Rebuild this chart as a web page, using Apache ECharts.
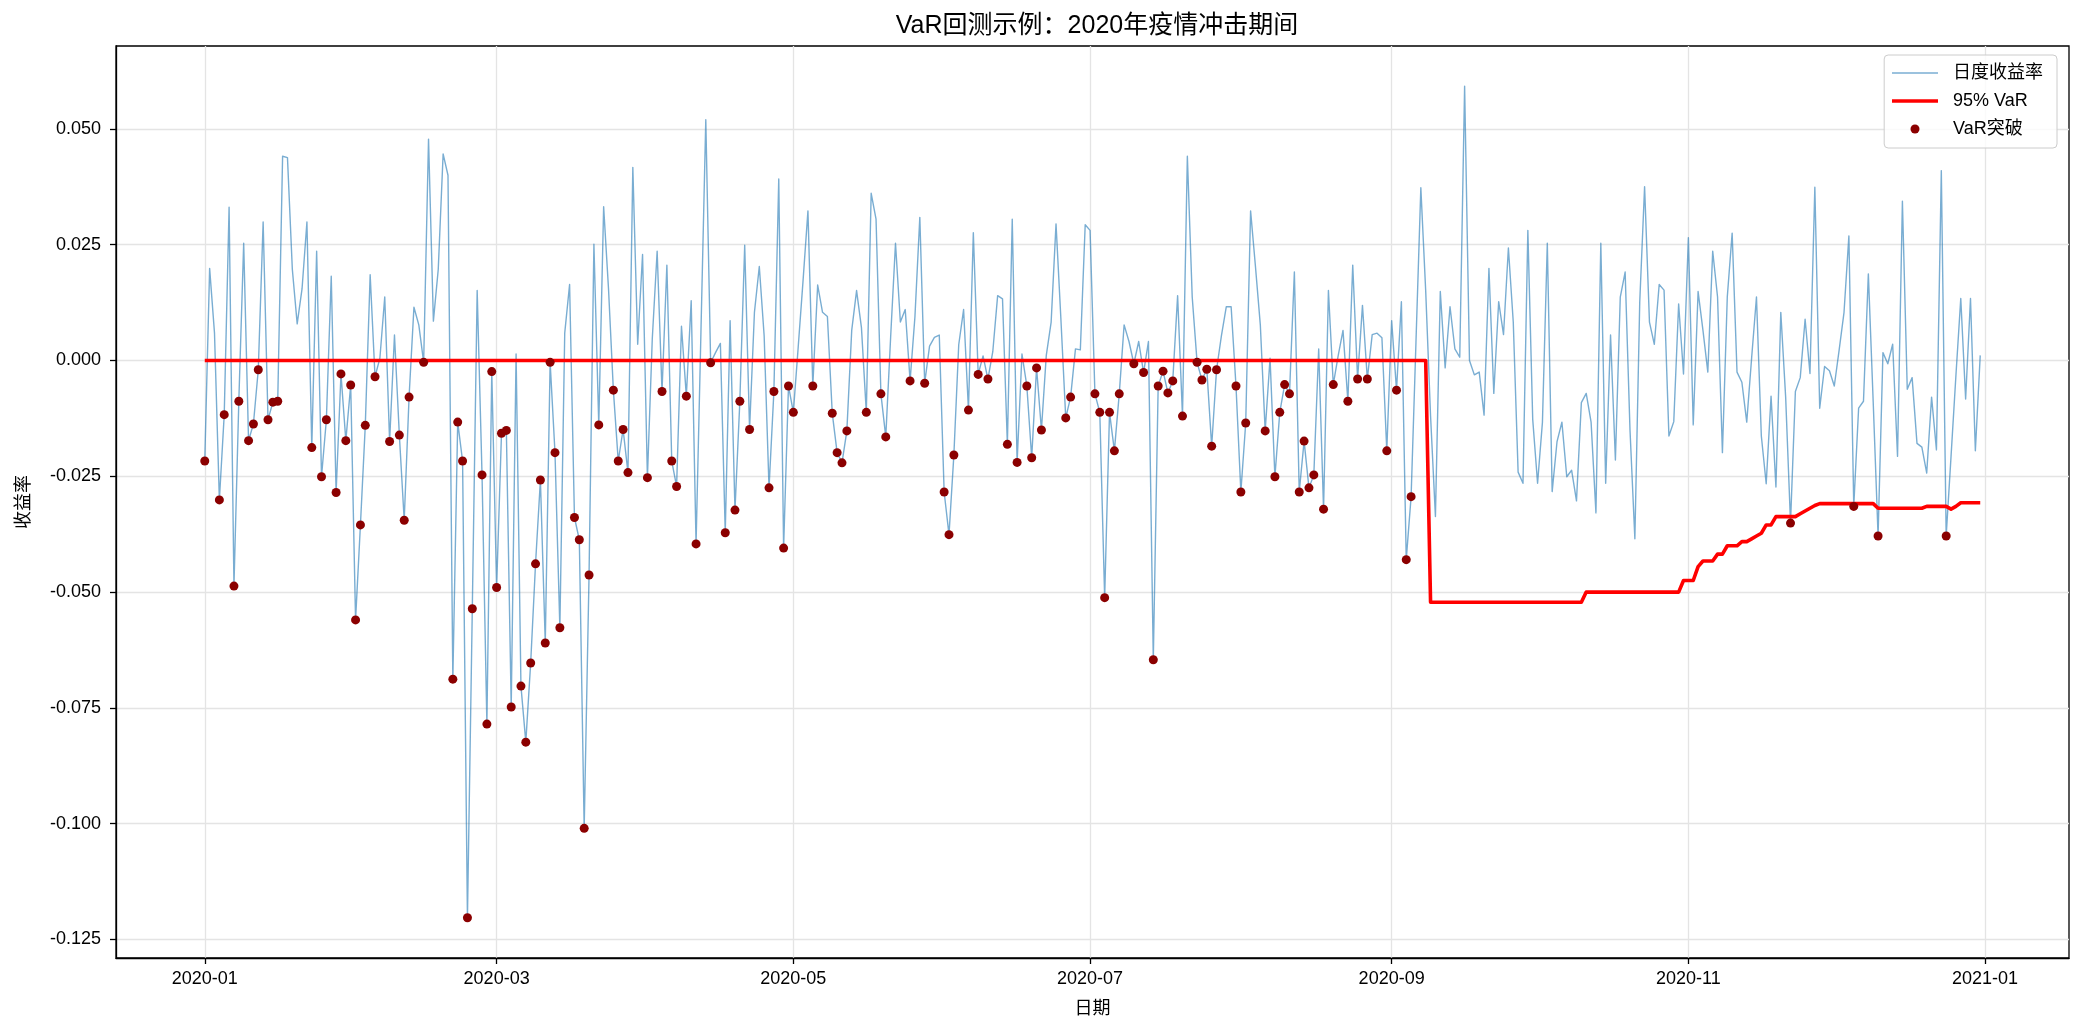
<!DOCTYPE html>
<html>
<head>
<meta charset="utf-8">
<title>VaR回测示例</title>
<script src="https://cdn.jsdelivr.net/npm/echarts@6/dist/echarts.min.js"></script>
<style>
  html, body { margin: 0; padding: 0; background: #fff; }
  #chart { width: 2084px; height: 1034px; }
</style>
</head>
<body>
<div id="chart"></div>
<script>
// 日度收益率, 2020-01-01 .. 2020-12-31 (每天一个点)
var retJan = [-0.0217, 0.0199, 0.0059, -0.0301, -0.0117, 0.0331, -0.0487, -0.0088, 0.0253, -0.0173,
  -0.0137, -0.0020, 0.0299, -0.0128, -0.0090, -0.0088, 0.0441, 0.0438, 0.0197, 0.0079,
  0.0155, 0.0299, -0.0188, 0.0236, -0.0251, -0.0128, 0.0182, -0.0285, -0.0029, -0.0173, -0.0053];
var retFeb = [-0.0560, -0.0355, -0.0140, 0.0185, -0.0035, 0.0005, 0.0137, -0.0175, 0.0055, -0.0161,
  -0.0345, -0.0079, 0.0115, 0.0077, -0.0004, 0.0478, 0.0085, 0.0197, 0.0446, 0.0400,
  -0.0688, -0.0133, -0.0217, -0.1203, -0.0536, 0.0151, -0.0247, -0.0785, -0.0024];
var retMar = [-0.0490, -0.0157, -0.0151, -0.0748, 0.0014, -0.0703, -0.0824, -0.0653, -0.0439, -0.0258,
  -0.0610, -0.0004, -0.0199, -0.0577, 0.0059, 0.0164, -0.0339, -0.0387, -0.1010, -0.0463,
  0.0251, -0.0139, 0.0332, 0.0155, -0.0064, -0.0217, -0.0149, -0.0242, 0.0417, 0.0035, 0.0229];
var retApr = [-0.0253, 0.0047, 0.0236, -0.0067, 0.0206, -0.0217, -0.0272, 0.0074, -0.0077, 0.0129,
  -0.0396, 0.0060, 0.0520, -0.0005, 0.0017, 0.0037, -0.0372, 0.0086, -0.0323, -0.0088,
  0.0249, -0.0149, 0.0104, 0.0203, 0.0053, -0.0275, -0.0067, 0.0392, -0.0405, -0.0055];
var retMay = [-0.0112, 0.0029, 0.0173, 0.0323, -0.0055, 0.0163, 0.0104, 0.0095, -0.0114, -0.0199,
  -0.0221, -0.0152, 0.0065, 0.0151, 0.0071, -0.0112, 0.0361, 0.0305, -0.0072, -0.0165,
  0.0050, 0.0253, 0.0083, 0.0110, -0.0044, 0.0095, 0.0309, -0.0049, 0.0031, 0.0050, 0.0055];
var retJun = [-0.0284, -0.0376, -0.0204, 0.0034, 0.0110, -0.0107, 0.0276, -0.0030, 0.0010, -0.0040,
  0.0019, 0.0140, 0.0133, -0.0181, 0.0305, -0.0220, 0.0014, -0.0055, -0.0210, -0.0016,
  -0.0150, 0.0011, 0.0083, 0.0295, 0.0090, -0.0124, -0.0079, 0.0025, 0.0023, 0.0293];
var retJul = [0.0281, -0.0072, -0.0112, -0.0512, -0.0112, -0.0195, -0.0072, 0.0077, 0.0041, -0.0007,
  0.0041, -0.0026, 0.0041, -0.0646, -0.0055, -0.0023, -0.0070, -0.0044, 0.0140, -0.0120,
  0.0441, 0.0137, -0.0004, -0.0042, -0.0019, -0.0185, -0.0020, 0.0053, 0.0116, 0.0116, -0.0055];
var retAug = [-0.0284, -0.0135, 0.0323, 0.0203, 0.0077, -0.0152, 0.0005, -0.0251, -0.0112, -0.0052,
  -0.0072, 0.0191, -0.0284, -0.0174, -0.0275, -0.0247, 0.0025, -0.0321, 0.0151, -0.0052,
  0.0010, 0.0065, -0.0088, 0.0206, -0.0040, 0.0119, -0.0040, 0.0056, 0.0059, 0.0049, -0.0195];
var retSep = [0.0086, -0.0064, 0.0127, -0.0430, -0.0294, 0.0040, 0.0373, 0.0150, -0.0120, -0.0337,
  0.0149, -0.0016, 0.0116, 0.0025, 0.0007, 0.0592, 0.0000, -0.0031, -0.0025, -0.0118,
  0.0199, -0.0071, 0.0127, 0.0056, 0.0243, 0.0083, -0.0241, -0.0265, 0.0281, -0.0127];
var retOct = [-0.0265, -0.0133, 0.0253, -0.0283, -0.0175, -0.0133, -0.0251, -0.0237, -0.0303, -0.0091,
  -0.0071, -0.0133, -0.0329, 0.0253, -0.0265, 0.0055, -0.0215, 0.0137, 0.0191, -0.0150,
  -0.0385, 0.0125, 0.0375, 0.0083, 0.0035, 0.0164, 0.0152, -0.0163, -0.0132, 0.0122, -0.0029];
var retNov = [0.0265, -0.0139, 0.0149, 0.0065, -0.0025, 0.0236, 0.0137, -0.0199, 0.0137, 0.0275,
  -0.0025, -0.0047, -0.0133, 0.0005, 0.0137, -0.0163, -0.0266, -0.0077, -0.0273, 0.0104,
  -0.0079, -0.0351, -0.0067, -0.0037, 0.0089, -0.0028, 0.0374, -0.0103, -0.0013, -0.0022];
var retDec = [-0.0055, 0.0023, 0.0104, 0.0269, -0.0315, -0.0103, -0.0088, 0.0187, -0.0090, -0.0379,
  0.0017, -0.0007, 0.0035, -0.0207, 0.0344, -0.0062, -0.0037, -0.0179, -0.0187, -0.0243,
  -0.0079, -0.0193, 0.0410, -0.0379, -0.0207, -0.0033, 0.0134, -0.0083, 0.0134, -0.0195, 0.0011];

// 95% VaR: 阶梯值, 从该日起生效
var varSteps = [
  ['2020-01-01', 0], ['2020-09-09', -0.0522], ['2020-10-11', -0.0500], ['2020-10-31', -0.0475],
  ['2020-11-03', -0.0445], ['2020-11-04', -0.0433], ['2020-11-07', -0.0418], ['2020-11-09', -0.0400],
  ['2020-11-12', -0.0391], ['2020-11-14', -0.0385], ['2020-11-15', -0.0379], ['2020-11-16', -0.0373],
  ['2020-11-17', -0.0355], ['2020-11-19', -0.0337], ['2020-11-24', -0.0331], ['2020-11-25', -0.0325],
  ['2020-11-26', -0.0319], ['2020-11-27', -0.0313], ['2020-11-28', -0.0309], ['2020-12-10', -0.0319],
  ['2020-12-20', -0.0315], ['2020-12-25', -0.0321], ['2020-12-26', -0.0315], ['2020-12-27', -0.0307]
];

var yTicks = [-0.125, -0.100, -0.075, -0.050, -0.025, 0.000, 0.025, 0.050];
var xTickDates = ['2020-01-01', '2020-03-01', '2020-05-01', '2020-07-01', '2020-09-01', '2020-11-01', '2021-01-01'];

var FONT = "'Liberation Sans', Arial, 'Noto Sans CJK SC', sans-serif";
var DAY = 24 * 3600 * 1000;

function pad(n) { return n < 10 ? '0' + n : '' + n; }
function fmtDay(d) { return d.getFullYear() + '-' + pad(d.getMonth() + 1) + '-' + pad(d.getDate()); }
function parseDay(s) {
  var p = s.split('-');
  return new Date(+p[0], +p[1] - 1, +p[2]).getTime();
}

var returns = [].concat(retJan, retFeb, retMar, retApr, retMay, retJun,
  retJul, retAug, retSep, retOct, retNov, retDec);

var retData = [];
var varData = [];
var breachData = [];
var curVar = 0;
var stepMap = {};
varSteps.forEach(function (s) { stepMap[s[0]] = s[1]; });

for (var i = 0; i < returns.length; i++) {
  var d = new Date(2020, 0, 1 + i);
  var key = fmtDay(d);
  if (stepMap[key] !== undefined) curVar = stepMap[key];
  var t = d.getTime();
  retData.push([t, returns[i]]);
  varData.push([t, curVar]);
  if (returns[i] < curVar) breachData.push([t, returns[i]]);
}

var xMin = parseDay('2020-01-01') - 18.25 * DAY;
var xMax = parseDay('2020-12-31') + 18.25 * DAY;
var xTicks = xTickDates.map(parseDay);

var chart = echarts.init(document.getElementById('chart'), null, { renderer: 'canvas' });

var option = {
  backgroundColor: '#fff',
  animation: false,
  textStyle: { fontFamily: FONT },
  title: {
    text: 'VaR回测示例：2020年疫情冲击期间',
    left: 1092,
    textAlign: 'center',
    top: 9,
    textStyle: { fontFamily: FONT, fontSize: 25, fontWeight: 'normal', color: '#000' }
  },
  grid: {
    left: 116, right: 15, top: 46, bottom: 76,
    show: true, borderColor: '#000', borderWidth: 1.3, backgroundColor: 'transparent'
  },
  legend: {
    orient: 'vertical',
    right: 27,
    top: 55,
    itemWidth: 46,
    itemHeight: 9,
    itemGap: 10,
    padding: [9, 14, 10, 6],
    backgroundColor: 'rgba(255,255,255,0.8)',
    borderColor: '#cccccc',
    borderWidth: 1,
    borderRadius: 4,
    textStyle: { fontFamily: FONT, fontSize: 18, color: '#000', lineHeight: 18, padding: [0, 0, 0, 10] },
    data: [
      // 线条图例只要线, 不要中间的圆点
      { name: '日度收益率', itemStyle: { opacity: 0 }, lineStyle: { width: 1.4 } },
      { name: '95% VaR', itemStyle: { opacity: 0 }, lineStyle: { width: 3.6 } },
      { name: 'VaR突破', icon: 'circle' }
    ]
  },
  // 时间用毫秒时间戳放在数值轴上, 刻度只放在单月的 1 号
  xAxis: {
    type: 'value',
    min: xMin,
    max: xMax,
    name: '日期',
    nameLocation: 'middle',
    nameGap: 42,
    nameTextStyle: { fontFamily: FONT, fontSize: 18, color: '#000' },
    axisLine: { show: true, onZero: false, lineStyle: { color: '#000', width: 1.3 } },
    axisTick: { show: true, length: 6, lineStyle: { color: '#000', width: 1.3 }, customValues: xTicks },
    axisLabel: {
      show: true, margin: 12, fontFamily: FONT, fontSize: 18, color: '#000',
      customValues: xTicks,
      formatter: function (v) {
        var d = new Date(v);
        return d.getFullYear() + '-' + pad(d.getMonth() + 1);
      }
    },
    splitLine: { show: true, lineStyle: { color: '#e4e4e4', width: 1.3 } }
  },
  yAxis: {
    type: 'value',
    min: -0.129,
    max: 0.0679,
    name: '收益率',
    nameLocation: 'middle',
    nameGap: 83,
    nameTextStyle: { fontFamily: FONT, fontSize: 18, color: '#000' },
    axisLine: { show: true, lineStyle: { color: '#000', width: 1.3 } },
    axisTick: { show: true, length: 6, lineStyle: { color: '#000', width: 1.3 }, customValues: yTicks },
    axisLabel: {
      show: true, margin: 15, fontFamily: FONT, fontSize: 18, color: '#000',
      customValues: yTicks,
      formatter: function (v) { return v.toFixed(3); }
    },
    splitLine: { show: true, lineStyle: { color: '#e4e4e4', width: 1.3 } }
  },
  series: [
    {
      name: '日度收益率',
      type: 'line',
      data: retData,
      symbol: 'none',
      lineStyle: { color: '#1f77b4', width: 1.4, opacity: 0.6, join: 'round' },
      itemStyle: { color: '#1f77b4', opacity: 0.6 },
      z: 2
    },
    {
      name: '95% VaR',
      type: 'line',
      data: varData,
      symbol: 'none',
      lineStyle: { color: '#ff0000', width: 3.6, join: 'round' },
      itemStyle: { color: '#ff0000' },
      z: 3
    },
    {
      name: 'VaR突破',
      type: 'scatter',
      data: breachData,
      symbolSize: 9,
      itemStyle: { color: '#8b0000', opacity: 1 },
      z: 4
    }
  ]
};

option && chart.setOption(option);
</script>
</body>
</html>
